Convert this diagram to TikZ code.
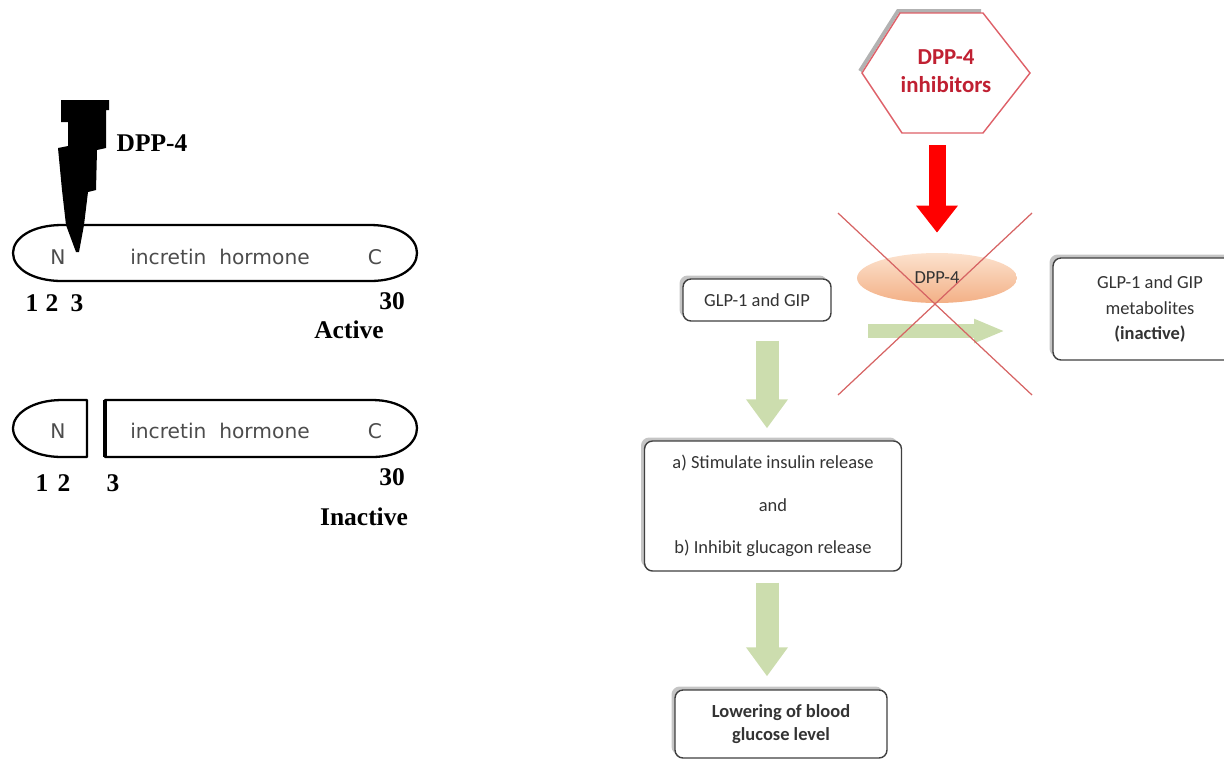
\documentclass[tikz,border=0pt]{standalone}
\usepackage{fontspec}
\usepackage{tikz}
\usetikzlibrary{positioning, calc}
\usetikzlibrary{arrows.meta, shapes.geometric, shadows}
\setmainfont{Liberation Serif}
\newfontfamily\flowfont{Carlito}
\newfontfamily\ovalfont{DejaVu Sans}
\definecolor{hexred}{RGB}{192,32,50}
\definecolor{hexline}{RGB}{222,96,104}
\definecolor{crossred}{RGB}{214,100,100}
\definecolor{arrowgreen}{RGB}{204,221,174}
\definecolor{peachlight}{RGB}{252,226,206}
\definecolor{peachdark}{RGB}{243,176,134}
\tikzstyle{ovalline}=[line width=1.3pt, draw=black, line join=round]
\tikzstyle{ovaltext}=[font=\ovalfont\fontsize{11.5}{13}\selectfont, text=black!70,
inner sep=0pt]
\tikzstyle{numlabel}=[font=\bfseries\fontsize{14.5}{16}\selectfont, inner sep=0pt]
\tikzstyle{flowbox}=[rectangle, rounded corners=0.16cm, draw=black!75,
line width=0.8pt, fill=white, align=center, text=black!80,
font=\flowfont\fontsize{10.5}{12.5}\selectfont,
drop shadow={shadow xshift=-0.07cm, shadow yshift=0.07cm, fill=black!45, opacity=0.5}]
\tikzstyle{greenarrow}=[draw=arrowgreen, line width=0.46cm,
-{Triangle[length=0.58cm, width=0.8cm]}]
\tikzstyle{redarrow}=[draw=red, line width=0.34cm, -{Triangle[length=0.54cm, width=0.8cm]}]
\tikzstyle{crossline}=[draw=crossred, line width=0.7pt]

\begin{document}
\begin{tikzpicture}[x=0.02cm, y=-0.02cm]
    \useasboundingbox (0,0) rectangle (1224,762);
    
    % active hormone
    \fill[black] (61,100) -- (109,100) -- (109,110) -- (106,110) -- (106,148)
    -- (97,150) -- (96,190) -- (88,192) -- (84,225) -- (79,252) -- (76,252)
    -- (66,225) -- (62,190) -- (58,148) -- (68,146) -- (68,122) -- (61,122) -- cycle;
    \node[numlabel] (enz) at (152,143) {DPP-4};
    
    \draw[ovalline] (62,225) -- (370,225) .. controls (400,225) and (417,238) .. (417,253)
    .. controls (417,268) and (400,281) .. (370,281)
    -- (62,281) .. controls (32,281) and (13,268) .. (13,253)
    .. controls (13,238) and (32,225) .. (62,225) -- cycle;
    \node[ovaltext] (n1) at (58,257) {N};
    \node[ovaltext] (inc1) at (220,257) {incretin~ hormone};
    \node[ovaltext] (c1) at (375,257) {C};
    
    \node[numlabel] (p1) at (32,303) {1};
    \node[numlabel] (p2) at (52,303) {2};
    \node[numlabel] (p3) at (77,303) {3};
    \node[numlabel] (p30) at (392,301) {30};
    \node[numlabel] (act) at (349,330) {Active};
    
    % cleaved hormone
    \draw[ovalline] (87,400) -- (62,400) .. controls (32,400) and (13,414) .. (13,428)
    .. controls (13,443) and (32,457) .. (62,457) -- (87,457) -- cycle;
    \draw[ovalline] (105,400) -- (372,400) .. controls (401,400) and (417,414) .. (417,428)
    .. controls (417,443) and (401,457) .. (372,457) -- (105,457) -- cycle;
    \draw[line width=2.4pt] (105,400) -- (105,457);
    \node[ovaltext] (n2) at (58,431) {N};
    \node[ovaltext] (inc2) at (220,431) {incretin~ hormone};
    \node[ovaltext] (c2) at (375,431) {C};
    
    \node[numlabel] (q1) at (42,483) {1};
    \node[numlabel] (q2) at (64,483) {2};
    \node[numlabel] (q3) at (113,483) {3};
    \node[numlabel] (q30) at (392,477) {30};
    \node[numlabel] (inact) at (364,517) {Inactive};
    
    % flow chart
    \draw[black!30, line width=2.2pt, shift={(-2,-2)}] (862,73) -- (900,13) -- (983,13);
    \draw[hexline, fill=white, line width=0.8pt] (862,73) -- (900,13) -- (983,13)
    -- (1030,73) -- (983,133) -- (902,133) -- cycle;
    \node[font=\flowfont\bfseries\fontsize{13}{16}\selectfont, text=hexred, align=center,
    minimum width=3.36cm, minimum height=2.4cm, inner sep=0pt] (inhib) at (946,71)
    {DPP-4\\inhibitors};
    
    \node[ellipse, minimum width=3.2cm, minimum height=1cm, inner sep=0pt,
    top color=peachlight, bottom color=peachdark, font=\flowfont\fontsize{10.5}{12}\selectfont,
    text=black!80] (dpp) at (937,278) {DPP-4};
    
    \node[flowbox, minimum width=2.96cm, minimum height=0.84cm] (glp) at (757,300)
    {GLP-1 and GIP};
    \node[flowbox, minimum width=5.14cm, minimum height=2.6cm] (effect) at (773,506)
    {a) Stimulate insulin release\\[0.41cm] and\\[0.41cm] b) Inhibit glucagon release};
    \node[flowbox, font=\flowfont\bfseries\fontsize{10.5}{12.5}\selectfont,
    minimum width=4.24cm, minimum height=1.36cm] (lower) at (781,724)
    {Lowering of blood\\[0.5pt] glucose level};
    \node[flowbox, minimum width=3.88cm, minimum height=2.04cm] (meta) at (1150,309)
    {GLP-1 and GIP\\[2pt] metabolites\\[2pt] \textbf{(inactive)}};
    
    \coordinate (a1) at ([xshift=0.2cm]glp.south);
    \coordinate (a2) at (a1 |- effect.south);
    \coordinate (hstart) at (868,331);
    \coordinate (hend) at (1005,331);
    
    \draw[redarrow, shorten <=0.28cm, shorten >=0.4cm] (inhib.south -| dpp.north) -- (dpp.north);
    \draw[greenarrow, shorten <=0.38cm, shorten >=0.24cm] (a1) -- (a1 |- effect.north);
    \draw[greenarrow, shorten <=0.22cm, shorten >=0.26cm] (a2) -- (a2 |- lower.north);
    \draw[greenarrow, line width=0.27cm, -{Triangle[length=0.62cm, width=0.44cm]}]
    (hstart) -- (hend);
    
    \draw[crossline] (838,213) -- (1032,395);
    \draw[crossline] (1032,213) -- (838,395);
\end{tikzpicture}
\end{document}
